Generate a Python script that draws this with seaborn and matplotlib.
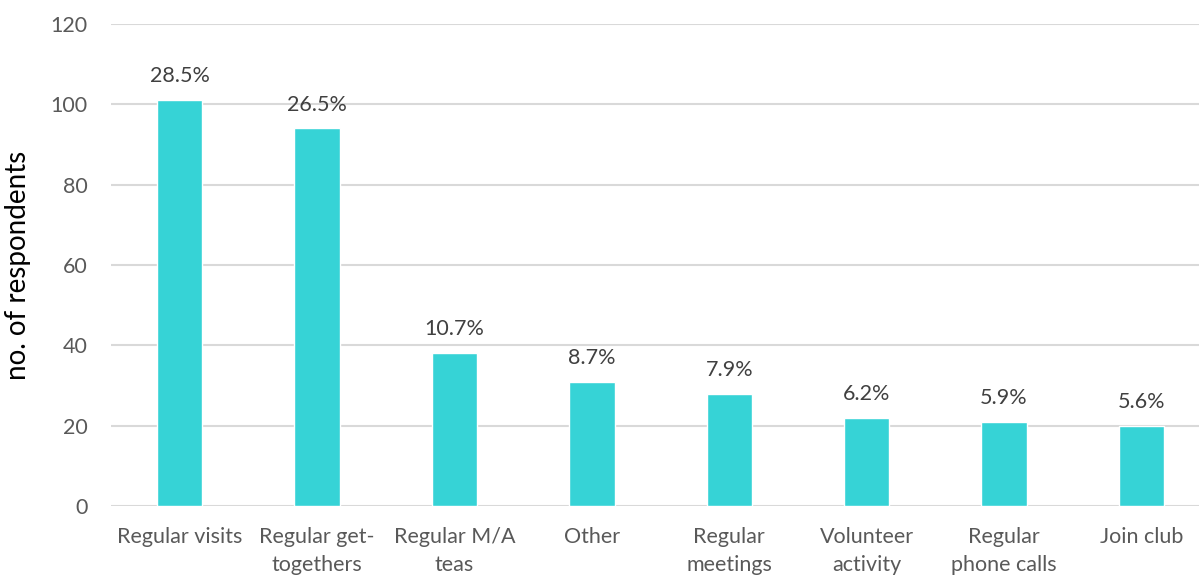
import matplotlib
matplotlib.use("Agg")
import matplotlib.pyplot as plt
import seaborn as sns
import pandas as pd

# ----------------------------------------------------------------------
# Data
# ----------------------------------------------------------------------
categories = ["Regular visits", "Regular get-\ntogethers", "Regular M/A\nteas", "Other",
              "Regular\nmeetings", "Volunteer\nactivity", "Regular\nphone calls", "Join club"]
respondents = [101, 94, 38, 31, 28, 22, 21, 20]
pct_labels = ["28.5%", "26.5%", "10.7%", "8.7%", "7.9%", "6.2%", "5.9%", "5.6%"]
y_ticks = [0, 20, 40, 60, 80, 100, 120]

df = pd.DataFrame({"category": categories, "respondents": respondents})

sns.set_style("white")
plt.rcParams["font.family"] = ["Lato", "DejaVu Sans"]

fig = plt.figure(figsize=(11.99, 5.76), dpi=100)
ax = fig.add_axes([0.0926, 0.1215, 0.9166, 0.8368])

sns.barplot(data=df, x="category", y="respondents", color="#36D3D6",
            saturation=1, width=0.33, ax=ax, zorder=3)

ax.bar_label(ax.containers[0], labels=pct_labels, padding=10,
             fontsize=15.5, color="#404040")

ax.set_ylim(0, 120)
ax.set_xlim(-0.5, 7.5)
ax.set_yticks(y_ticks)
ax.yaxis.grid(True, color="#D9D9D9", linewidth=1.5, zorder=0)
ax.set_axisbelow(True)
for s in ax.spines.values():
    s.set_visible(False)
ax.tick_params(axis="both", length=0, labelsize=15.5, colors="#595959")
ax.tick_params(axis="y", pad=17)
ax.tick_params(axis="x", pad=15)
for lbl in ax.get_xticklabels():
    lbl.set_linespacing(1.5)
ax.set_xlabel("")
ax.set_ylabel("no. of respondents", fontsize=20, color="black", labelpad=14)

fig.savefig("out.png", dpi=100)
